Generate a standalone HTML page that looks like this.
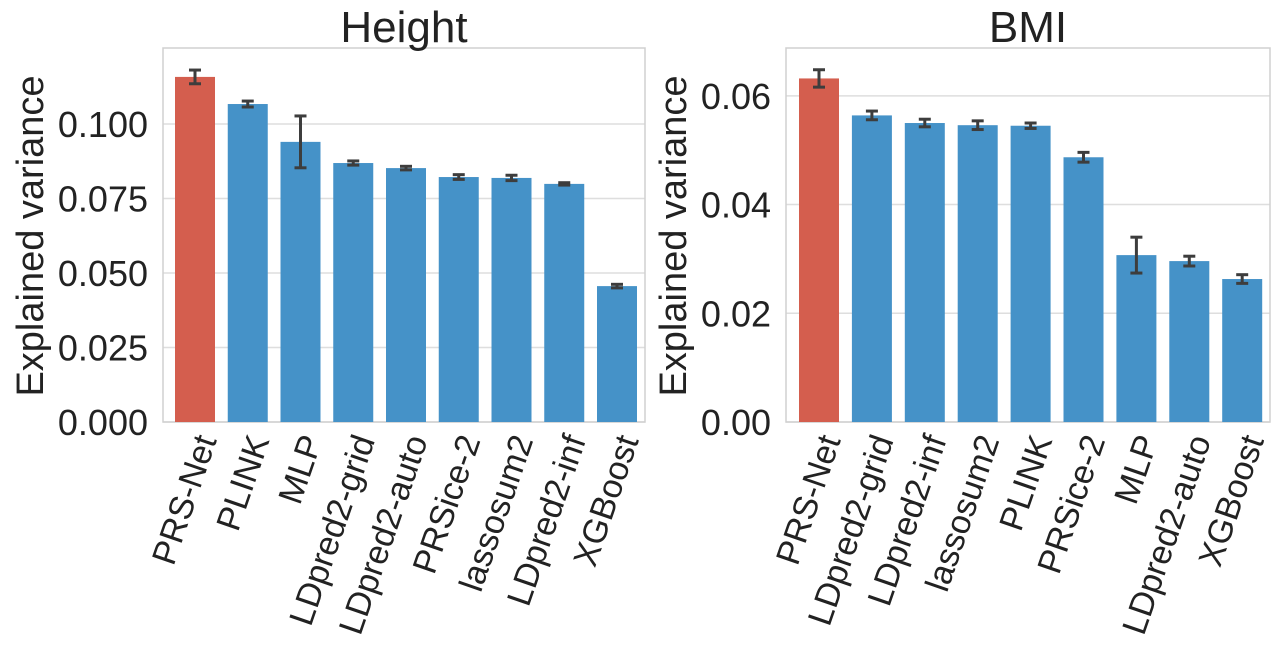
<!DOCTYPE html>
<html><head><meta charset="utf-8"><style>
html,body{margin:0;padding:0;background:#fff;}
svg text{font-family:"Liberation Sans",sans-serif;fill:#222;}
</style></head><body>
<svg id="chart" width="1280" height="664" xmlns="http://www.w3.org/2000/svg"></svg>
<script>
const heightCats=["PRS-Net","PLINK","MLP","LDpred2-grid","LDpred2-auto","PRSice-2","lassosum2","LDpred2-inf","XGBoost"];
const heightVals=[0.1158,0.1067,0.0940,0.0869,0.0852,0.0822,0.0819,0.0799,0.0456];
const heightErr=[0.0023,0.0010,0.0087,0.0007,0.0006,0.0008,0.0009,0.0004,0.0006];
const heightTicks=["0.000","0.025","0.050","0.075","0.100"];
const heightTickVals=[0,0.025,0.05,0.075,0.1];
const bmiCats=["PRS-Net","LDpred2-grid","LDpred2-inf","lassosum2","PLINK","PRSice-2","MLP","LDpred2-auto","XGBoost"];
const bmiVals=[0.0632,0.0564,0.0550,0.0546,0.0545,0.0487,0.0307,0.0296,0.0263];
const bmiErr=[0.0016,0.0008,0.0007,0.0008,0.0005,0.0009,0.0033,0.0009,0.0008];
const bmiTicks=["0.00","0.02","0.04","0.06"];
const bmiTickVals=[0,0.02,0.04,0.06];

const svg=document.getElementById('chart');
const NS="http://www.w3.org/2000/svg";
function mk(tag,attrs,parent){const e=document.createElementNS(NS,tag);for(const k in attrs)e.setAttribute(k,attrs[k]);(parent||svg).appendChild(e);return e;}

function panel(name,title,cats,vals,errs,ticks,tickVals,x0,x1,yMax,firstCx,step,yTitleX){
  const top=48,bot=422;
  const g=mk('g',{});
  
  
  const y=v=>bot-(v/yMax)*(bot-top);
  tickVals.forEach((tv,i)=>{
    const gl=mk('line',{x1:x0,x2:x1,y1:y(tv),y2:y(tv),stroke:'#dedede','stroke-width':1.5},g);
    
    
    const t=mk('text',{x:x0-15,y:y(tv)+13,'text-anchor':'end','font-size':36},g);
    t.textContent=ticks[i];
    
    
  });
  const fr=mk('rect',{x:x0,y:top,width:x1-x0,height:bot-top,fill:'none',stroke:'#d0d0d0','stroke-width':1.5},g);
  
  
  cats.forEach((c,i)=>{
    const cx=firstCx+i*step,w=40;
    const b=mk('rect',{x:cx-w/2,y:y(vals[i]),width:w,height:bot-y(vals[i]),fill:i===0?'#d45e4e':'#4592c8'},g);
    
    
    const e=errs[i],eg=mk('g',{stroke:'#3d3d3d','stroke-width':3},g);
    
    
    mk('line',{x1:cx,x2:cx,y1:y(vals[i]+e),y2:y(vals[i]-e)},eg);
    mk('line',{x1:cx-6,x2:cx+6,y1:y(vals[i]+e),y2:y(vals[i]+e)},eg);
    mk('line',{x1:cx-6,x2:cx+6,y1:y(vals[i]-e),y2:y(vals[i]-e)},eg);
    const lx=cx+22,ly=440;
    const t=mk('text',{x:lx,y:ly,'text-anchor':'end','font-size':34,transform:`rotate(-71 ${lx} ${ly})`},g);
    t.textContent=c;
    
    
  });
  const tt=mk('text',{x:(x0+x1)/2,y:42,'text-anchor':'middle','font-size':44},g);
  tt.textContent=title;
  
  
  const yl=mk('text',{x:0,y:0,'text-anchor':'middle','font-size':38,transform:`translate(${yTitleX} 236) rotate(-90)`},g);
  yl.textContent='Explained variance';
  
  
  yl.setAttribute('dy','13');
}
panel('height','Height',heightCats,heightVals,heightErr,heightTicks,heightTickVals,163,645,0.1255,195,52.75,30);
panel('bmi','BMI',bmiCats,bmiVals,bmiErr,bmiTicks,bmiTickVals,786,1270,0.0688,819,52.9,673);
</script>
</body></html>
